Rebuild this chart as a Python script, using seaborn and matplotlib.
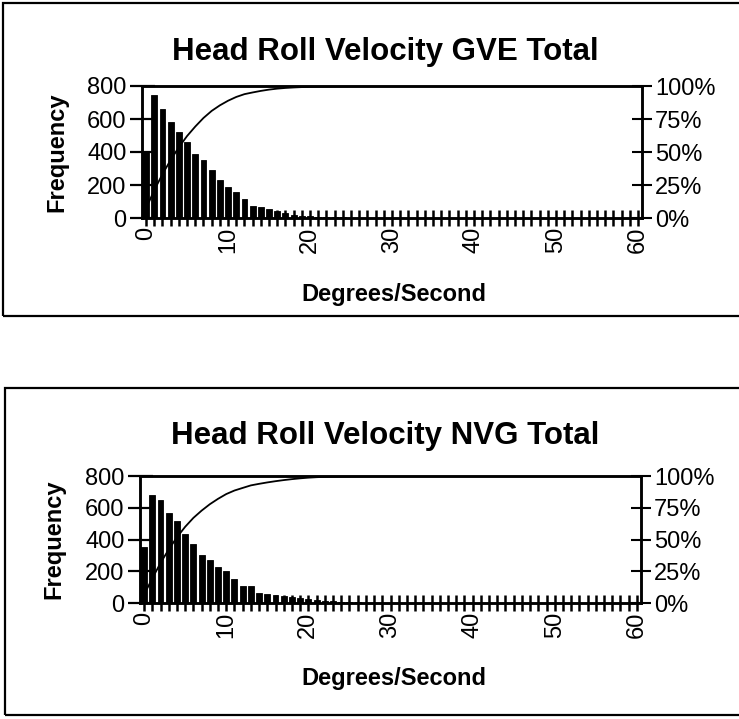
import numpy as np
import pandas as pd
import matplotlib
matplotlib.use("Agg")
import matplotlib.pyplot as plt
from matplotlib.patches import Rectangle
import seaborn as sns

# Histogram bins (degrees/second) and counts for the two viewing conditions
bins = list(range(61))
gve_freq = [400, 745, 659, 584, 523, 458, 390, 352, 291, 228, 190, 155, 115, 70, 64, 53,
            40, 28, 20, 15, 12, 8, 6, 5, 4, 3, 2, 2, 1, 1, 1, 0, 0, 0, 0, 0, 0, 0, 0, 0,
            0, 0, 0, 0, 0, 0, 0, 0, 0, 0, 0, 0, 0, 0, 0, 0, 0, 0, 0, 0, 0]
nvg_freq = [353, 683, 647, 567, 515, 437, 374, 305, 269, 227, 200, 149, 109, 107, 65, 59,
            52, 46, 40, 34, 28, 20, 14, 10, 7, 5, 4, 3, 2, 2, 1, 1, 1, 0, 0, 0, 0, 0, 0, 0,
            0, 0, 0, 0, 0, 0, 0, 0, 0, 0, 0, 0, 0, 0, 0, 0, 0, 0, 0, 0, 0]
freq_ticks = [0, 200, 400, 600, 800]
pct_ticks = [0, 25, 50, 75, 100]
pct_labels = ["0%", "25%", "50%", "75%", "100%"]
titles = ["Head Roll Velocity GVE Total", "Head Roll Velocity NVG Total"]

sns.set_style("white")
plt.rcParams["font.family"] = ["Liberation Sans", "DejaVu Sans"]
for key in ["text.color", "axes.labelcolor", "xtick.color", "ytick.color"]:
    plt.rcParams[key] = "black"

W, H = 739, 719
fig = plt.figure(figsize=(W / 100, H / 100), dpi=100)


def fx(px):
    return px / W


def fy(py):
    return 1 - py / H


panels = [
    dict(freq=gve_freq, title=titles[0], box=(3, 3, 316), ax=(142, 86, 642, 218),
         title_y=1.197, xlab_y=-0.49),
    dict(freq=nvg_freq, title=titles[1], box=(5, 388, 715), ax=(140, 476, 641, 603),
         title_y=1.25, xlab_y=-0.50),
]

for p in panels:
    # framed panel border
    bx, btop, bbot = p["box"]
    fig.add_artist(Rectangle((fx(bx), fy(bbot)), fx(W + 10 - bx), (bbot - btop) / H,
                             transform=fig.transFigure, fill=False, lw=1.6,
                             edgecolor="black"))
    l, t, r, b = p["ax"]
    ax = fig.add_axes([fx(l), fy(b), (r - l) / W, (b - t) / H])
    df = pd.DataFrame({"bin": bins, "freq": p["freq"]})
    sns.barplot(data=df, x="bin", y="freq", color="black", saturation=1,
                width=0.72, edgecolor="black", linewidth=0.6, ax=ax)
    ax.set_ylim(0, 800)
    ax.set_xlim(-0.5, 60.5)
    ax.set_yticks(freq_ticks)
    ax.set_yticklabels([str(v) for v in freq_ticks], fontsize=17)
    ax.set_xticks(bins)
    ax.set_xticklabels([str(v) if v % 10 == 0 else "" for v in bins], fontsize=17,
                       rotation=90)
    ax.tick_params(axis="x", bottom=True, direction="inout", length=11, width=1.8,
                   pad=1, color="black")
    ax.tick_params(axis="y", left=True, direction="inout", length=18, width=1.6,
                   pad=2, color="black")
    for s in ax.spines.values():
        s.set_visible(True)
        s.set_color("black")
        s.set_linewidth(1.8)

    # cumulative percentage on the secondary axis
    freq = np.array(p["freq"], dtype=float)
    cum = np.cumsum(freq) / freq.sum() * 100
    ax2 = ax.twinx()
    sns.lineplot(x=bins, y=cum, ax=ax2, color="black", linewidth=1.3)
    ax2.set_ylim(0, 100)
    ax2.set_yticks(pct_ticks)
    ax2.set_yticklabels(pct_labels, fontsize=17)
    ax2.tick_params(axis="y", right=True, direction="inout", length=15, width=1.5,
                    pad=2, color="black")
    ax2.set_ylabel("")
    for s in ax2.spines.values():
        s.set_linewidth(1.8)
        s.set_color("black")

    xc = (385 - l) / (r - l)
    ax.set_title(p["title"], fontsize=22.5, fontweight="bold", x=xc, y=p["title_y"],
                 pad=0)
    ax.set_xlabel("Degrees/Second", fontsize=17, fontweight="bold")
    ax.xaxis.set_label_coords((394 - l) / (r - l), p["xlab_y"])
    ax.set_ylabel("Frequency", fontsize=17, fontweight="bold")
    ax.yaxis.set_label_coords(-0.148, 0.5)

fig.savefig("out.png", dpi=100)
